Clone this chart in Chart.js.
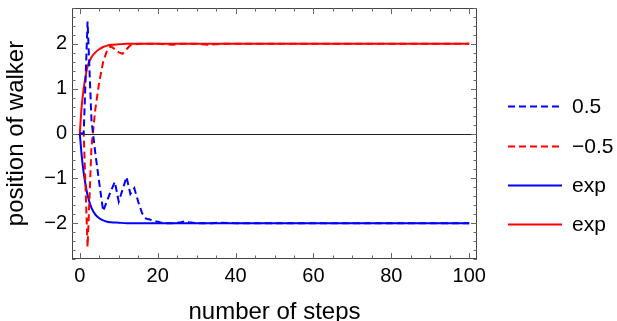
<!DOCTYPE html>
<html>
<head>
<meta charset="utf-8">
<script src="https://cdn.jsdelivr.net/npm/chart.js@4.4.1/dist/chart.umd.min.js"></script>
<style>
  html, body { margin: 0; padding: 0; background: #fff; }
  #wrap { width: 617px; height: 321px; }
</style>
</head>
<body>
<div id="wrap"><canvas id="walker" width="617" height="321"></canvas></div>
<script>
// tick labels
var xTicks = [0, 20, 40, 60, 80, 100];
var yTicks = [-2, -1, 0, 1, 2];

// walker, parameter 0.5 (blue dashed)
var stepsHalf = [0, 1, 2, 3, 4, 5, 6, 7, 8, 9, 10, 11, 12, 13, 14, 15, 16, 17, 18, 19, 20, 21,
                 22, 24, 26, 27, 28, 30, 34, 36, 40, 100];
var posHalf = [0, 0, 2.5, 0.3, -0.45, -1.1, -1.73, -1.5, -1.28, -1.08,
               -1.52, -1.25, -0.97, -1.35, -1.22, -1.52, -1.78, -1.9, -1.92, -1.95,
               -1.97, -1.99, -2, -2, -1.98, -1.96, -1.98, -2, -2, -1.99, -2, -2];

// walker, parameter -0.5 (red dashed)
var stepsNegHalf = [0, 1, 2, 3, 4, 5, 6, 7, 8, 9, 10, 11, 12, 13, 14,
                    16, 20, 24, 26, 30, 33, 36, 40, 100];
var posNegHalf = [0, 0, -2.53, -0.3, 0.55, 1.15, 1.6, 1.85, 1.95, 1.88,
                  1.81, 1.78, 1.88, 1.97, 1.99,
                  2, 2, 1.98, 2, 2, 1.98, 2, 2, 2];

// exponential approach (solid)
var stepsExp = [0, 0.5, 1, 1.5, 2, 3, 4, 5, 6, 7, 8, 10, 12, 100];
var expDown = [0, -0.5, -0.88, -1.15, -1.38, -1.66, -1.81, -1.89, -1.94, -1.97, -1.98, -1.99, -2, -2];
var expUp = [0, 0.62, 1.0, 1.28, 1.5, 1.7, 1.81, 1.88, 1.93, 1.96, 1.98, 1.99, 2, 2];

var fontFam = "'Liberation Sans', Arial, sans-serif";

function pts(xs, ys) {
  var out = [];
  for (var i = 0; i < xs.length; i++) {
    out.push({x: xs[i], y: ys[i]});
  }
  return out;
}

function minusSign(v) {
  return String(v).replace('-', '\u2212');
}

// axes frame, inward ticks, zero line
var framePlugin = {
  id: 'frame',
  beforeDatasetsDraw: function(chart) {
    var a = chart.chartArea;
    var ctx = chart.ctx;
    var y0 = Math.round(chart.scales.y.getPixelForValue(0)) + 0.5;
    ctx.save();
    ctx.strokeStyle = '#222';
    ctx.lineWidth = 1;
    ctx.beginPath();
    ctx.moveTo(a.left, y0);
    ctx.lineTo(a.right, y0);
    ctx.stroke();
    ctx.restore();
  },
  afterDatasetsDraw: function(chart) {
    var a = chart.chartArea;
    var ctx = chart.ctx;
    var sx = chart.scales.x, sy = chart.scales.y;
    ctx.save();
    ctx.strokeStyle = '#444';
    ctx.lineWidth = 1;
    ctx.strokeRect(a.left + 0.5, a.top + 0.5, a.right - a.left - 1, a.bottom - a.top - 1);
    ctx.strokeStyle = '#666';
    ctx.beginPath();
    for (var v = 0; v <= 100; v += 5) {
      var len = xTicks.indexOf(v) >= 0 ? 6 : 3.5;
      var px = Math.round(sx.getPixelForValue(v)) + 0.5;
      ctx.moveTo(px, a.bottom);
      ctx.lineTo(px, a.bottom - len);
      ctx.moveTo(px, a.top);
      ctx.lineTo(px, a.top + len);
    }
    for (var k = -14; k <= 14; k++) {
      var val = k / 5;
      var major = (k % 5 === 0);
      var l = major ? 6 : 3.5;
      var py = Math.round(sy.getPixelForValue(val)) + 0.5;
      ctx.moveTo(a.left, py);
      ctx.lineTo(a.left + l, py);
      ctx.moveTo(a.right, py);
      ctx.lineTo(a.right - l, py);
    }
    ctx.stroke();
    ctx.restore();
  }
};

// legend on the right side
var legendPlugin = {
  id: 'sideLegend',
  afterDraw: function(chart) {
    var ctx = chart.ctx;
    var rows = [106, 146, 185, 224];
    ctx.save();
    ctx.font = '21px ' + fontFam;
    ctx.textBaseline = 'middle';
    ctx.textAlign = 'left';
    chart.data.datasets.forEach(function(ds, i) {
      ctx.strokeStyle = ds.borderColor;
      ctx.lineWidth = ds.borderWidth;
      ctx.setLineDash(ds.borderDash || []);
      ctx.beginPath();
      ctx.moveTo(508, rows[i] + 0.5);
      ctx.lineTo(562, rows[i] + 0.5);
      ctx.stroke();
      ctx.setLineDash([]);
      ctx.fillStyle = '#000';
      ctx.fillText(ds.label, 572, rows[i] + 1);
    });
    ctx.restore();
  }
};

var config = {
  type: 'line',
  data: {
    datasets: [{
      label: '0.5',
      data: pts(stepsHalf, posHalf),
      borderColor: '#0000ff',
      borderWidth: 2,
      borderDash: [7, 4],
      pointRadius: 0,
      tension: 0
    }, {
      label: '\u22120.5',
      data: pts(stepsNegHalf, posNegHalf),
      borderColor: '#ff0000',
      borderWidth: 2,
      borderDash: [7, 4],
      pointRadius: 0,
      tension: 0
    }, {
      label: 'exp',
      data: pts(stepsExp, expDown),
      borderColor: '#0000ff',
      borderWidth: 2,
      pointRadius: 0,
      cubicInterpolationMode: 'monotone'
    }, {
      label: 'exp',
      data: pts(stepsExp, expUp),
      borderColor: '#ff0000',
      borderWidth: 2,
      pointRadius: 0,
      cubicInterpolationMode: 'monotone'
    }]
  },
  options: {
    responsive: false,
    animation: false,
    devicePixelRatio: 1,
    layout: {
      padding: {top: 8, right: 140, left: 0, bottom: 0}
    },
    plugins: {
      legend: {display: false},
      tooltip: {enabled: false}
    },
    scales: {
      x: {
        type: 'linear',
        min: -2,
        max: 102,
        afterBuildTicks: function(scale) {
          scale.ticks = xTicks.map(function(v) { return {value: v}; });
        },
        afterFit: function(scale) {
          scale.height = 62;
          scale.paddingLeft = 0;
          scale.paddingRight = 0;
        },
        grid: {display: false, drawTicks: false},
        border: {display: false},
        ticks: {
          padding: 5,
          color: '#000',
          maxRotation: 0,
          font: {family: fontFam, size: 20},
          callback: function(v) { return minusSign(v); }
        },
        title: {
          display: true,
          text: 'number of steps',
          color: '#000',
          padding: {top: 0, bottom: -6},
          font: {family: fontFam, size: 24}
        }
      },
      y: {
        type: 'linear',
        min: -2.8,
        max: 2.8,
        afterBuildTicks: function(scale) {
          scale.ticks = yTicks.map(function(v) { return {value: v}; });
        },
        afterFit: function(scale) {
          scale.width = 72;
          scale.paddingTop = 0;
          scale.paddingBottom = 0;
        },
        grid: {display: false, drawTicks: false},
        border: {display: false},
        ticks: {
          padding: 5,
          color: '#000',
          font: {family: fontFam, size: 20},
          callback: function(v) { return minusSign(v); }
        },
        title: {
          display: true,
          text: 'position of walker',
          color: '#000',
          padding: {top: 2, bottom: 0},
          font: {family: fontFam, size: 24}
        }
      }
    }
  },
  plugins: [framePlugin, legendPlugin]
};

var ctx = document.getElementById('walker');
window.walkChart = new Chart(ctx, config);
</script>
</body>
</html>
